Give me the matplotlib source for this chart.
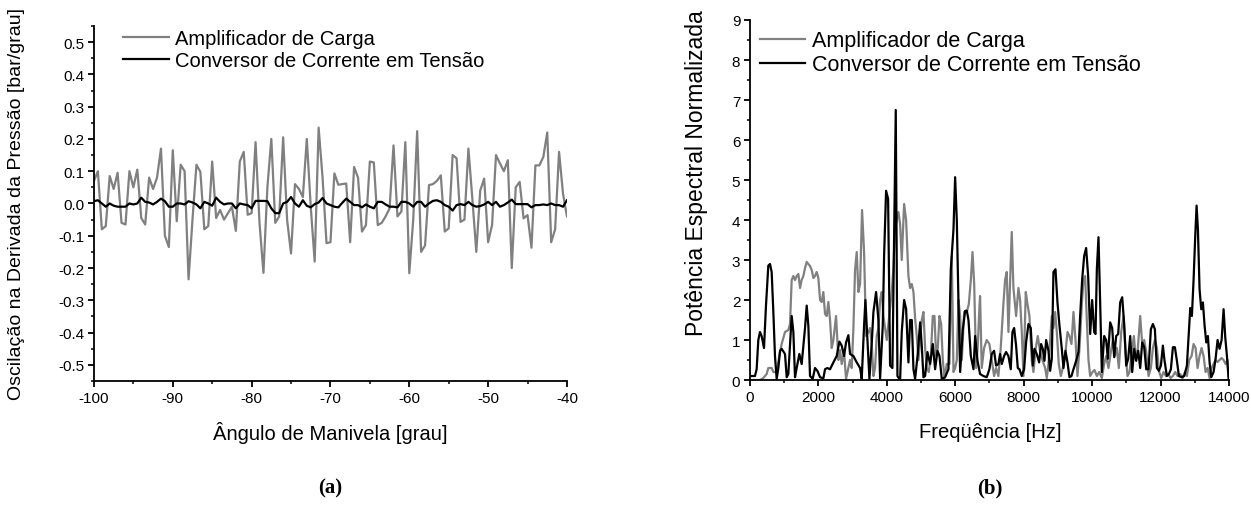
import numpy as np
import matplotlib
matplotlib.use('Agg')
import matplotlib.pyplot as plt
from matplotlib.ticker import MultipleLocator, FormatStrFormatter

plt.rcParams['font.family'] = ['Liberation Sans', 'DejaVu Sans']
plt.rcParams['axes.unicode_minus'] = False

###############################################################################
# Data
###############################################################################

# (a) crank angle from -100 to -40 deg, every 0.5 deg
angle = np.arange(-100, -39.99, 0.5)

amp_carga_a = [
    0.07, 0.10, -0.08, -0.07, 0.085, 0.045, 0.095, -0.06, -0.065, 0.10,
    0.05, 0.105, -0.045, -0.065, 0.08, 0.045, 0.08, 0.17, -0.10, -0.135,
    0.165, -0.055, 0.12, 0.10, -0.235, -0.05, 0.12, 0.098, -0.08, -0.07,
    0.13, -0.045, -0.02, -0.05, -0.03, -0.01, -0.085, 0.13, 0.16, -0.035,
    -0.03, 0.19, -0.06, -0.215, 0.05, 0.20, -0.06, -0.04, 0.205, -0.05,
    -0.155, 0.06, 0.045, 0.02, 0.20, -0.01, -0.18, 0.235, 0.08, -0.123,
    -0.12, 0.093, 0.058, 0.06, 0.062, -0.12, 0.113, 0.08, -0.087, -0.067,
    0.13, 0.127, -0.067, -0.06, -0.04, -0.015, 0.18, -0.04, -0.025, 0.19,
    -0.216, -0.05, 0.224, -0.15, -0.13, 0.057, 0.06, 0.07, 0.087, -0.087,
    -0.077, 0.15, 0.14, -0.057, -0.05, 0.17, 0.015, -0.15, 0.04, 0.077,
    -0.12, -0.067, 0.15, 0.124, 0.10, 0.134, -0.20, 0.05, 0.067, -0.046,
    -0.036, -0.137, 0.118, 0.118, 0.144, 0.22, -0.12, -0.08, 0.16, 0.03,
    -0.04]

conv_corr_a = [
    0.007, 0.01, 0.0, -0.01, 0.0, -0.007, -0.01, -0.01, -0.01, 0.0,
    -0.003, 0.0, 0.018, 0.005, 0.003, -0.003, 0.005, 0.015, 0.007, -0.01,
    -0.01, 0.0, 0.0, -0.003, 0.007, 0.003, -0.003, -0.015, 0.005, 0.0,
    -0.007, 0.018, 0.005, -0.003, 0.0, 0.0, -0.015, 0.0, -0.003, -0.005,
    -0.015, 0.008, 0.008, 0.008, 0.007, -0.015, -0.03, -0.03, 0.0, 0.005,
    0.02, 0.0, -0.01, 0.01, -0.007, -0.012, -0.002, 0.003, 0.017, 0.0,
    -0.005, -0.01, -0.012, 0.002, 0.015, 0.005, -0.005, -0.005, -0.012, -0.003,
    -0.01, -0.015, 0.005, 0.005, -0.003, -0.01, -0.01, -0.012, 0.005, 0.005,
    0.0, -0.01, 0.005, 0.005, -0.01, 0.0, 0.008, 0.01, 0.005, -0.005,
    -0.01, -0.022, -0.005, -0.002, -0.005, 0.005, -0.005, -0.01, -0.008, -0.003,
    0.005, -0.005, 0.005, -0.01, -0.005, 0.003, 0.012, -0.002, -0.002, -0.002,
    -0.002, -0.012, -0.005, -0.005, -0.003, -0.005, 0.0, -0.005, -0.005, -0.01,
    0.01]

# (b) normalised power spectrum
freq_amp = [
    0, 293, 390, 488, 536, 634, 683, 780, 858, 926,
    1024, 1121, 1170, 1219, 1268, 1316, 1365, 1414, 1463, 1511,
    1560, 1609, 1658, 1706, 1755, 1804, 1853, 1901, 1950, 1999,
    2048, 2096, 2145, 2194, 2243, 2291, 2340, 2389, 2438, 2516,
    2584, 2633, 2681, 2750, 2808, 2876, 2925, 2974, 3023, 3071,
    3120, 3169, 3218, 3276, 3335, 3393, 3461, 3510, 3559, 3608,
    3656, 3705, 3754, 3803, 3851, 3900, 3998, 4095, 4144, 4193,
    4241, 4339, 4388, 4436, 4505, 4563, 4631, 4680, 4729, 4778,
    4826, 4875, 4924, 4973, 5021, 5070, 5119, 5168, 5226, 5285,
    5343, 5392, 5441, 5489, 5538, 5587, 5636, 5684, 5753, 5831,
    5899, 5948, 5996, 6045, 6094, 6143, 6191, 6260, 6338, 6396,
    6455, 6504, 6553, 6611, 6660, 6708,
    6725, 6774, 6842, 6920, 6998, 7066, 7135, 7193, 7261, 7329,
    7407, 7456, 7505, 7554, 7603, 7651, 7700, 7778, 7846, 7895,
    7944, 7993, 8061, 8110, 8168, 8236, 8285, 8353, 8412, 8480,
    8548, 8626, 8675, 8724, 8773, 8821, 8870, 8919, 8968, 9026,
    9085, 9143, 9211, 9280, 9338, 9397, 9455, 9514, 9572, 9631,
    9699, 9747, 9796, 9845, 9894, 9943, 10011, 10069, 10138, 10206,
    10284, 10352, 10410, 10479, 10547, 10606, 10664, 10723, 10781, 10850,
    10918, 10976, 11035, 11093, 11161, 11220, 11279, 11337, 11405, 11464,
    11522, 11581, 11649, 11717, 11776, 11834, 11893, 11961, 12019, 12088,
    12156, 12224, 12292, 12361, 12429, 12497, 12575, 12643, 12712, 12770,
    12839, 12907, 12965, 13024, 13082, 13140, 13199, 13257, 13316, 13375,
    13433, 13492, 13550, 13608, 13667, 13725, 13784, 13842, 13901, 13959,
    13989]

pot_amp = [
    0.0, 0.0, 0.05, 0.15, 0.3, 0.3, 0.2, 0.2, 0.6, 0.9,
    1.2, 1.25, 1.4, 2.5, 2.6, 2.5, 2.6, 2.65, 2.3, 2.5,
    2.6, 2.8, 2.95, 2.9, 2.85, 2.75, 2.55, 2.6, 2.7, 2.55,
    2.0, 1.95, 2.2, 1.65, 1.6, 1.95, 1.5, 0.8, 1.0, 1.6,
    0.5, 0.75, 0.4, 0.7, 0.03, 0.3, 0.5, 0.3, 1.3, 2.75,
    3.2, 2.2, 2.4, 4.25, 3.2, 1.1, 1.2, 1.3, 0.9, 0.1,
    0.3, 1.1, 1.3, 2.0, 2.2, 1.6, 1.0, 1.8, 2.2, 2.8,
    3.8, 4.2, 3.9, 3.0, 4.4, 4.0, 2.6, 2.3, 2.4, 2.2,
    1.55, 1.1, 0.5, 1.0, 1.5, 1.7, 0.8, 0.3, 0.2, 0.6,
    1.6, 1.6, 0.6, 0.8, 1.6, 1.4, 0.5, 0.05, 0.4, 0.4,
    3.1, 0.2, 0.3, 0.5, 2.0, 1.6, 0.5, 1.7, 1.7, 1.9,
    2.5, 3.2, 2.4, 0.3, 0.9, 1.85,
    2.1, 0.3, 0.8, 1.0, 0.9, 0.5, 0.1, 0.3, 0.1, 0.8,
    1.9, 2.5, 2.7, 1.2, 2.5, 3.7, 2.3, 1.6, 2.3, 2.0,
    1.2, 0.1, 2.2, 1.9, 1.6, 0.5, 0.2, 0.8, 1.1, 0.7,
    0.5, 0.3, 0.05, 0.4, 1.0, 1.6, 1.3, 1.7, 1.2, 0.4,
    0.1, 0.3, 0.6, 1.2, 1.1, 0.9, 1.7, 1.0, 0.1, 0.8,
    1.9, 2.5, 2.6, 1.5, 0.5, 0.1, 0.2, 0.25, 0.1, 0.2,
    0.05, 0.4, 0.6, 0.3, 0.7, 1.0, 0.6, 0.8, 0.3, 1.2,
    1.6, 0.7, 0.1, 0.2, 0.7, 1.1, 0.5, 0.8, 1.6, 0.9,
    1.0, 0.7, 0.1, 0.3, 0.8, 1.0, 0.8, 0.2, 0.05, 0.2,
    0.1, 0.15, 0.05, 0.1, 0.2, 0.1, 0.15, 0.05, 0.2, 0.1,
    0.5, 0.6, 0.9, 0.8, 0.3, 0.6, 0.8, 0.6, 0.2, 0.3,
    0.05, 0.3, 0.4, 0.5, 0.45, 0.5, 0.55, 0.5, 0.4, 0.5,
    0.1]

freq_conv = [
    0, 146, 195, 244, 293, 341, 410, 468, 536, 585,
    634, 683, 731, 780, 829, 878, 926, 1024, 1073, 1121,
    1219, 1268, 1316, 1365, 1443, 1511, 1609, 1658, 1706, 1755,
    1833, 1901, 1970, 2048, 2145, 2194, 2262, 2340, 2438, 2535,
    2613, 2681, 2750, 2808, 2876, 2925, 3023, 3120, 3218, 3266,
    3335, 3374, 3432, 3491, 3559, 3608, 3686, 3754, 3803, 3881,
    3920, 3978, 4037, 4095, 4163, 4212, 4261, 4310, 4388, 4436,
    4505, 4563, 4631, 4680, 4729, 4778, 4826, 4904, 4973, 5021,
    5070, 5119, 5187, 5265, 5343, 5411, 5480, 5538, 5606, 5704,
    5801, 5870, 5948, 5996, 6045, 6094, 6143, 6221, 6289, 6338,
    6386, 6455, 6533, 6581, 6650,
    6725, 6822, 6920, 6998, 7066, 7135, 7193, 7261, 7310, 7359,
    7427, 7485, 7554, 7622, 7671, 7720, 7778, 7827, 7876, 7944,
    8012, 8070, 8139, 8207, 8266, 8314, 8383, 8451, 8509, 8558,
    8607, 8656, 8724, 8773, 8821, 8870, 8929, 8987, 9046, 9114,
    9163, 9221, 9280, 9338, 9397, 9455, 9533, 9601, 9650, 9708,
    9767, 9825, 9884, 9943, 10001, 10060, 10099, 10138, 10186, 10235,
    10284, 10352, 10410, 10459, 10528, 10586, 10645, 10703, 10762, 10820,
    10879, 10937, 10996, 11054, 11113, 11171, 11230, 11288, 11347, 11405,
    11464, 11522, 11581, 11649, 11717, 11776, 11834, 11893, 11951, 12010,
    12068, 12117, 12185, 12244, 12302, 12361, 12419, 12478, 12536, 12624,
    12692, 12770, 12819, 12868, 12916, 12965, 13014, 13053, 13092, 13140,
    13189, 13238, 13287, 13336, 13384, 13433, 13482, 13550, 13608, 13667,
    13725, 13784, 13842, 13891, 13940, 13989]

pot_conv = [
    0.1, 0.1, 0.27, 1.0, 1.2, 1.1, 0.8, 1.86, 2.86, 2.9,
    2.7, 1.7, 0.6, 0.03, 0.3, 0.73, 0.78, 0.65, 0.07, 0.15,
    1.6, 1.2, 0.07, 0.3, 0.65, 0.4, 1.3, 1.86, 1.36, 0.1,
    0.03, 0.3, 0.23, 0.07, 0.04, 0.27, 0.3, 0.27, 0.44, 0.6,
    0.96, 0.86, 0.6, 0.94, 1.12, 0.65, 0.6, 0.44, 0.3, 0.03,
    1.36, 2.0, 1.0, 0.03, 0.94, 1.7, 2.2, 1.5, 0.04, 1.36,
    3.1, 4.73, 4.53, 0.36, 0.3, 3.6, 6.75, 0.1, 0.0, 1.2,
    2.0, 1.78, 0.44, 1.5, 1.5, 0.27, 0.03, 0.65, 1.44, 0.86,
    0.07, 0.1, 0.7, 0.4, 0.9, 0.27, 0.73, 0.6, 0.03, 0.07,
    0.27, 2.77, 3.77, 5.07, 4.0, 1.94, 0.2, 1.27, 1.73, 1.73,
    1.5, 0.6, 0.27, 1.1, 0.48,
    0.15, 0.1, 0.07, 0.27, 0.65, 0.73, 0.36, 0.4, 0.65, 0.4,
    0.6, 0.7, 0.6, 0.27, 1.2, 1.3, 0.86, 0.3, 0.27, 0.1,
    0.27, 0.94, 1.4, 1.3, 0.36, 0.78, 0.65, 0.44, 0.9, 0.78,
    0.48, 1.0, 0.73, 0.23, 0.53, 2.7, 2.77, 1.94, 1.36, 0.78,
    0.3, 0.73, 0.44, 0.07, 0.1, 0.27, 0.48, 0.7, 1.6, 2.5,
    3.1, 3.3, 2.6, 1.15, 2.0, 1.2, 1.15, 2.77, 3.57, 1.94,
    0.2, 1.1, 1.0, 0.53, 1.44, 1.3, 0.57, 1.1, 1.15, 1.94,
    2.07, 1.4, 0.36, 0.53, 1.1, 0.2, 0.78, 0.48, 0.73, 0.3,
    0.94, 0.82, 0.27, 0.27, 1.27, 1.4, 1.27, 0.3, 0.23, 0.36,
    0.86, 0.48, 0.1, 0.15, 0.27, 0.82, 0.82, 0.48, 0.1, 0.07,
    0.1, 0.36, 1.1, 1.8, 1.6, 2.5, 3.6, 4.36, 3.77, 2.27,
    1.77, 1.94, 1.36, 0.94, 1.1, 0.44, 0.07, 0.2, 0.53, 1.0,
    0.78, 1.0, 1.77, 1.07, 0.6, 0.03]

labels = ['Amplificador de Carga', 'Conversor de Corrente em Tensão']

###############################################################################
# Plot
###############################################################################

gray = '#808080'
fig = plt.figure(figsize=(12.51, 5.06), dpi=100)

ax1 = fig.add_axes([0.0751, 0.2451, 0.3781, 0.7016])
ax2 = fig.add_axes([0.5995, 0.2470, 0.3829, 0.7115])

ax1.plot(angle, amp_carga_a, color=gray, linewidth=1.6, label=labels[0])
ax1.plot(angle, conv_corr_a, color='black', linewidth=1.6, label=labels[1])

ax2.plot(freq_amp, pot_amp, color=gray, linewidth=1.6, label=labels[0])
ax2.plot(freq_conv, pot_conv, color='black', linewidth=1.6, label=labels[1])

ax1.set_xlim(-100, -40)
ax1.set_ylim(-0.55, 0.55)
ax1.xaxis.set_major_locator(MultipleLocator(10))
ax1.xaxis.set_minor_locator(MultipleLocator(5))
ax1.yaxis.set_major_locator(MultipleLocator(0.1))
ax1.yaxis.set_minor_locator(MultipleLocator(0.05))
ax1.yaxis.set_major_formatter(FormatStrFormatter('%.1f'))

ax2.set_xlim(0, 14000)
ax2.set_ylim(0, 9)
ax2.xaxis.set_major_locator(MultipleLocator(2000))
ax2.xaxis.set_minor_locator(MultipleLocator(1000))
ax2.yaxis.set_major_locator(MultipleLocator(1))
ax2.yaxis.set_minor_locator(MultipleLocator(0.5))

for ax in (ax1, ax2):
    ax.spines['right'].set_color('none')
    ax.spines['top'].set_color('none')
    for s in ('left', 'bottom'):
        ax.spines[s].set_linewidth(1.3)
    ax.tick_params(which='major', direction='out', length=4, width=1.3,
                   labelsize=11, pad=3)
    ax.tick_params(which='minor', direction='out', length=2.5, width=1.1)

ax1.set_xlabel('Ângulo de Manivela [grau]', fontsize=14.5)
ax1.set_ylabel('Oscilação na Derivada da Pressão [bar/grau]', fontsize=14)
ax1.xaxis.set_label_coords(0.499, -0.144)
ax1.xaxis.label.set_va('center')
ax1.yaxis.set_label_coords(-0.163, 0.5)
ax1.yaxis.label.set_va('center')

ax2.set_xlabel('Freqüência [Hz]', fontsize=14.5)
ax2.set_ylabel('Potência Espectral Normalizada', fontsize=16.5)
ax2.xaxis.set_label_coords(0.501, -0.144)
ax2.xaxis.label.set_va('center')
ax2.yaxis.set_label_coords(-0.111, 0.578)
ax2.yaxis.label.set_va('center')

ax1.legend(loc='upper left', bbox_to_anchor=(0.061, 0.992), frameon=False,
           fontsize=14.5, handlelength=2.3, handletextpad=0.3,
           labelspacing=0.15, borderpad=0, borderaxespad=0)
ax2.legend(loc='upper left', bbox_to_anchor=(0.021, 0.972), frameon=False,
           fontsize=15.5, handlelength=2.1, handletextpad=0.3,
           labelspacing=0.15, borderpad=0, borderaxespad=0)

fig.text(330 / 1251, 1 - 488 / 506, '(a)', family='Liberation Serif',
         weight='bold', fontsize=15, ha='center', va='center')
fig.text(990 / 1251, 1 - 488 / 506, '(b)', family='Liberation Serif',
         weight='bold', fontsize=15, ha='center', va='center')

fig.savefig('out.png', dpi=100)
